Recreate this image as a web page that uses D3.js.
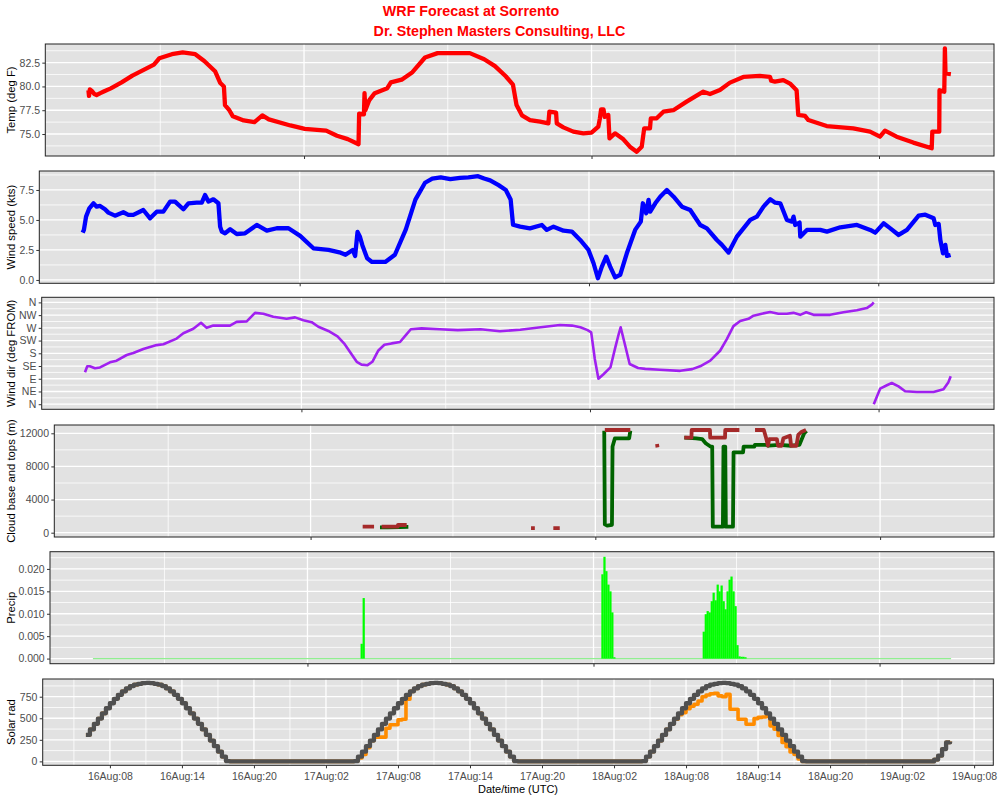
<!DOCTYPE html>
<html><head><meta charset="utf-8">
<script src="https://cdn.jsdelivr.net/npm/d3@7"></script>
<style>
body{margin:0;background:#fff}
svg{display:block}
text{font-family:"Liberation Sans",Arial,Helvetica,sans-serif}
</style>
</head><body>
<svg id="chart" width="1000" height="800"></svg>
<script>
// ---------- DATA (hours after 16 Aug 06:00 UTC, value) ----------
const START = Date.UTC(2019, 7, 16, 6);
const titleLines = ["WRF Forecast at Sorrento", "Dr. Stephen Masters Consulting, LLC"];
const xTitle = "Date/time (UTC)";
const yTitles = ["Temp (deg F)", "Wind speed (kts)", "Wind dir (deg FROM)", "Cloud base and tops (m)", "Precip", "Solar rad"];

const tempData = [[0,79.6],[0.05,79.0],[0.12,79.7],[0.3,79.5],[0.5,79.2],[0.68,79.1],[1.0,79.3],[1.28,79.46],[1.87,79.8],[2.77,80.43],[3.67,81.14],[4.57,81.71],[5.47,82.3],[5.92,82.96],[6.97,83.39],[7.87,83.57],[8.92,83.39],[9.67,82.68],[10.57,81.6],[11.01,80.36],[11.31,80.0],[11.4,78.04],[11.76,77.5],[12.06,76.86],[12.96,76.43],[13.86,76.25],[14.52,76.96],[15.06,76.54],[16.86,75.9],[18.06,75.54],[19.85,75.36],[20.75,74.82],[21.65,74.46],[22.55,73.93],[22.6,77.14],[23.0,77.07],[23.05,79.3],[23.12,77.5],[23.45,78.57],[23.9,79.29],[24.95,79.82],[25.25,80.43],[26.15,80.71],[27.05,81.5],[28.1,83.04],[29.15,83.5],[31.84,83.5],[33.04,82.86],[33.94,82.14],[34.84,81.07],[35.44,80.18],[35.74,78.04],[36.19,76.96],[36.86,76.47],[37.7,76.3],[38.4,76.12],[38.48,77.35],[39.04,77.24],[39.1,76.12],[39.65,75.7],[40.48,75.25],[41.32,75.07],[42.0,75.14],[42.57,75.77],[42.7,76.65],[42.8,77.6],[43.0,77.6],[43.1,76.8],[43.4,77.0],[43.5,74.55],[43.96,75.07],[44.66,74.44],[45.2,73.67],[45.77,73.14],[46.19,73.67],[46.4,75.6],[46.88,75.6],[46.95,76.65],[47.44,76.65],[48.0,77.35],[48.83,77.5],[49.94,78.4],[51.33,79.45],[51.89,79.2],[52.72,79.62],[53.56,80.4],[54.67,81.0],[56.06,81.1],[56.9,81.0],[57.0,80.6],[57.31,80.5],[58.01,80.67],[58.57,80.3],[59.12,79.6],[59.26,77.0],[59.82,76.9],[60.1,76.47],[61.63,75.84],[63.85,75.6],[65.25,75.25],[66.08,74.72],[66.5,75.35],[67.47,74.72],[68.86,74.1],[70.4,73.5],[70.45,75.25],[71.03,75.25],[71.05,79.6],[71.45,79.45],[71.5,84.0],[71.55,81.37],[72,81.3]];

const windData = [[0,3.94],[0.1,4.17],[0.28,5.28],[0.55,5.97],[0.89,6.39],[1.16,6.11],[1.44,6.17],[1.85,5.89],[2.13,5.61],[2.68,5.36],[3.37,5.64],[3.79,5.42],[4.2,5.42],[5.03,5.83],[5.59,5.14],[6.14,5.69],[6.69,5.69],[7.25,6.53],[7.66,6.53],[8.35,5.89],[8.77,6.39],[9.46,6.44],[9.88,6.44],[10.15,7.08],[10.43,6.53],[10.84,6.72],[11.26,6.39],[11.4,4.44],[11.54,4.03],[11.81,3.89],[12.23,4.22],[12.78,3.83],[13.47,3.89],[14.44,4.58],[15.27,4.11],[16.1,4.31],[17.07,4.31],[18.04,3.67],[19.14,2.64],[20.39,2.5],[21.3,2.3],[21.8,2.1],[22.4,2.5],[22.6,2.0],[22.8,4.0],[23.0,3.6],[23.2,2.9],[23.6,1.8],[24.0,1.5],[25.1,1.5],[25.9,2.1],[26.8,4.2],[27.6,6.7],[28.4,8.1],[29.0,8.45],[29.7,8.55],[30.5,8.4],[31.3,8.5],[32.0,8.55],[32.8,8.65],[33.3,8.45],[33.8,8.3],[34.5,7.9],[35.1,7.5],[35.5,6.7],[35.7,4.6],[36.29,4.44],[37.1,4.3],[38.09,4.58],[38.5,4.17],[39.06,4.44],[39.89,4.11],[40.58,4.03],[41.27,3.33],[41.96,2.5],[42.38,1.39],[42.74,0.14],[43.07,1.11],[43.43,1.94],[43.76,1.11],[44.17,0.22],[44.59,0.42],[45.14,2.22],[45.83,4.17],[46.3,4.86],[46.47,6.39],[46.75,5.56],[46.94,6.67],[47.08,5.69],[47.5,6.39],[47.91,6.94],[48.46,7.5],[49.02,6.94],[49.71,6.11],[50.4,5.83],[51.23,4.58],[51.78,4.3],[52.61,3.33],[53.03,2.92],[53.58,2.28],[54.27,3.61],[55.38,5.0],[55.93,5.28],[56.48,6.11],[57.04,6.72],[57.45,6.44],[57.87,6.39],[58.42,5.0],[58.84,4.86],[58.97,5.28],[59.11,4.58],[59.47,4.78],[59.53,3.61],[60.08,4.17],[61.19,4.17],[61.74,4.03],[62.85,4.39],[64.23,4.58],[65.33,4.17],[65.75,3.94],[66.44,4.72],[67.0,4.3],[67.69,3.75],[68.38,4.17],[69.35,5.36],[69.9,5.44],[70.59,5.14],[70.73,4.58],[71.01,4.67],[71.15,3.33],[71.37,2.22],[71.56,2.92],[71.7,2.0],[72,2.08]];

// wind direction, null marks the wrap from N(360) to N(0)
const dirData = [[0,113],[0.19,134],[0.4,134],[0.83,127],[1.25,130],[2.08,148],[2.63,154],[3.47,174],[4.02,181],[4.85,195],[5.96,209],[6.52,212],[7.62,232],[8.18,251],[9.01,267],[9.65,288],[10.12,270],[10.67,278],[12.06,278],[12.61,291],[13.45,293],[14.14,323],[14.83,320],[15.66,309],[16.77,302],[17.47,307],[18.16,297],[18.85,290],[19.41,274],[20.24,259],[21.0,240],[21.6,212],[22.2,175],[22.6,150],[23.0,140],[23.5,138],[23.9,150],[24.4,190],[24.9,210],[25.5,215],[26.2,220],[26.7,245],[27.1,265],[28.0,268],[29.5,265],[31.0,262],[32.9,265],[34.5,258],[36.2,263],[37.9,272],[39.5,280],[40.5,278],[41.2,272],[41.8,262],[42.1,254],[42.4,160],[42.7,90],[43.1,105],[43.7,130],[44.1,200],[44.4,250],[44.55,272],[44.9,212],[45.3,142],[46.0,128],[46.6,125],[47.8,122],[49.5,118],[50.5,124],[51.16,134],[52.0,154],[52.82,189],[53.38,230],[53.93,276],[54.49,294],[55.18,302],[55.6,313],[56.29,320],[56.98,326],[57.67,320],[58.37,320],[58.92,323],[59.48,316],[59.98,325],[60.59,316],[61.97,316],[63.08,325],[64.19,332],[65.02,340],[65.44,352],[65.6,360],[65.6,null],[65.6,0],[66.13,55],[66.69,67],[67.1,75],[67.66,63],[68.21,46],[69.18,43],[70.57,43],[71.4,53],[71.81,78],[72,99]];

// cloud tops and bases (m), null = no cloud
const cloudTops = [[22.39,725],[23.35,725],[23.4,null],[23.99,725],[25.34,725],[25.36,930],[26.1,930],[26.2,null],[36.58,560],[36.9,560],[37,null],[38.46,560],[39.0,560],[39.1,null],[42.8,12400],[44.95,12400],[45,null],[47.2,10700],[47.24,10300],[47.3,null],[49.5,11480],[50.1,11480],[50.12,12400],[51.66,12400],[51.68,11480],[52.93,11480],[52.95,12400],[54.14,12400],[54.2,null],[55.46,12400],[56.2,12400],[56.4,11400],[56.55,10500],[56.65,11300],[57.3,11300],[57.4,10500],[57.7,10500],[57.85,11400],[58.4,11700],[58.5,10500],[58.95,10500],[59.1,11800],[59.4,12200],[59.75,12400]];
const cloudBase = [[23.85,650],[24.5,650],[25.5,680],[26.24,700],[26.3,null],[42.75,12300],[42.8,1000],[43.0,850],[43.4,950],[43.45,10400],[43.65,11400],[44.85,11400],[44.95,12300],[45,null],[49.5,11480],[50.5,11400],[51.0,11300],[51.3,10800],[51.7,10400],[51.85,10400],[51.9,725],[52.75,725],[52.8,10400],[52.95,10400],[53.0,725],[53.6,725],[53.65,9700],[54.45,9700],[54.5,10400],[55.4,10400],[55.45,10600],[56.4,10600],[56.6,10500],[57.5,10600],[58.5,10500],[59.2,10600],[59.6,12000],[59.8,12300]];

// precipitation (10-min totals)
const precipHours  = [0,22.55,22.72,42.75,42.92,43.08,43.25,43.42,43.58,43.75,51.25,51.42,51.58,51.75,51.92,52.08,52.25,52.42,52.58,52.75,52.92,53.08,53.25,53.42,53.58,53.75,53.92,54.08,54.25,54.42,54.58,54.75,72];
const precipValues = [0,0.0033,0.0135,0.0188,0.0227,0.0195,0.0165,0.0150,0.0103,0.0003,0.0060,0.0099,0.0106,0.0103,0.0128,0.0147,0.0130,0.0165,0.0150,0.0163,0.0128,0.0110,0.0150,0.0176,0.0183,0.0150,0.0117,0.0030,0.0005,0.0004,0.0004,0.0003,0];

// solar radiation every 20 minutes from 16Aug 06:00 (clear sky and forecast)
const solarStepHours = 1/3;
const solarClear = [307,371,435,497,557,616,674,726,772,812,846,873,890,900,907,910,907,900,890,873,846,812,772,726,674,616,557,497,435,371,307,241,176,113,54,3,
0,0,0,0,0,0,0,0,0,0,0,0,0,0,0,0,0,0,0,0,0,0,0,0,0,0,0,0,0,0,0,
3,54,113,176,241,307,371,435,497,557,616,674,726,772,812,846,873,890,900,907,910,907,900,890,873,846,812,772,726,674,616,557,497,435,371,307,241,176,113,54,3,
0,0,0,0,0,0,0,0,0,0,0,0,0,0,0,0,0,0,0,0,0,0,0,0,0,0,0,0,0,0,0,
3,54,113,176,241,307,371,435,497,557,616,674,726,772,812,846,873,890,900,907,910,907,900,890,873,846,812,772,726,674,616,557,497,435,371,307,241,176,113,54,3,
0,0,0,0,0,0,0,0,0,0,0,0,0,0,0,0,0,0,0,0,0,0,0,0,0,0,0,0,0,0,0,0,
20,66,143,220,231];
const solarActual = [307,371,435,497,557,616,674,726,772,812,846,873,890,900,907,910,907,900,890,873,846,812,772,726,674,616,557,497,435,371,307,241,176,113,54,3,
0,0,0,0,0,0,0,0,0,0,0,0,0,0,0,0,0,0,0,0,0,0,0,0,0,0,0,0,0,0,0,
3,40,80,160,240,281,281,281,385,424,424,481,488,720,812,846,873,890,900,907,910,907,900,890,873,846,812,772,726,674,616,557,497,435,371,307,241,176,113,54,3,
0,0,0,0,0,0,0,0,0,0,0,0,0,0,0,0,0,0,0,0,0,0,0,0,0,0,0,0,0,0,0,
3,54,113,176,241,307,371,435,490,540,566,610,640,662,700,750,770,785,789,760,750,777,604,604,489,489,431,431,496,510,515,520,412,373,300,220,170,110,80,27,0,
0,0,0,0,0,0,0,0,0,0,0,0,0,0,0,0,0,0,0,0,0,0,0,0,0,0,0,0,0,0,0,0,
20,66,143,220,231];

// axis ranges and ticks
const timeRange = [-3.6, 75.6];
const dayTicks = [18, 42, 66];          // midnights
const dayMinor = [6, 30, 54];           // noons
const solarTicks = [2,8,14,20,26,32,38,44,50,56,62,68,74];
const solarMinorX = [-1,5,11,17,23,29,35,41,47,53,59,65,71];

const tempDomain = [72.69, 84.46], tempTicks = [75, 77.5, 80, 82.5], tempMinor = [73.75, 76.25, 78.75, 81.25, 83.75];
const windDomain = [-0.28, 9.08], windTicks = [0, 2.5, 5, 7.5], windMinor = [1.25, 3.75, 6.25, 8.75];
const dirDomain = [-18, 378], dirTicks = [0,45,90,135,180,225,270,315,360], dirMinor = [22.5,67.5,112.5,157.5,202.5,247.5,292.5,337.5];
const dirLabels = ["N","NE","E","SE","S","SW","W","NW","N"];
const cloudDomain = [-520, 13003], cloudTicks = [0, 4000, 8000, 12000], cloudMinor = [2000, 6000, 10000];
const precipDomain = [-0.00114, 0.02384], precipTicks = [0, 0.005, 0.01, 0.015, 0.02], precipMinor = [0.0025, 0.0075, 0.0125, 0.0175, 0.0225];
const solarDomain = [-45.5, 955.5], solarYTicks = [0, 250, 500, 750], solarYMinor = [125, 375, 625, 875];

// ---------- DRAWING ----------
const HOUR = 3600e3;
const toDate = h => new Date(START + h * HOUR);
const svg = d3.select("#chart");
const BG = "#E2E2E2";
let clipN = 0;

function drawPanel(p) {
  const x = d3.scaleUtc().domain(timeRange.map(toDate)).range([p.left, p.right]);
  const y = d3.scaleLinear().domain(p.domain).range([p.bottom, p.top]);
  const g = svg.append("g");
  g.append("rect").attr("x", p.left).attr("y", p.top)
    .attr("width", p.right - p.left).attr("height", p.bottom - p.top).attr("fill", BG);
  const grid = g.append("g").attr("stroke", "#fff");
  p.yMinor.forEach(v => grid.append("line").attr("x1", p.left).attr("x2", p.right)
    .attr("y1", y(v)).attr("y2", y(v)).attr("stroke-width", 0.8));
  p.xMinor.forEach(h => grid.append("line").attr("y1", p.top).attr("y2", p.bottom)
    .attr("x1", x(toDate(h))).attr("x2", x(toDate(h))).attr("stroke-width", 0.8));
  p.yTicks.forEach(v => grid.append("line").attr("x1", p.left).attr("x2", p.right)
    .attr("y1", y(v)).attr("y2", y(v)).attr("stroke-width", 1.3));
  p.xTicks.forEach(h => grid.append("line").attr("y1", p.top).attr("y2", p.bottom)
    .attr("x1", x(toDate(h))).attr("x2", x(toDate(h))).attr("stroke-width", 1.3));

  const id = "clip" + (clipN++);
  svg.append("clipPath").attr("id", id).append("rect")
    .attr("x", p.left).attr("y", p.top).attr("width", p.right - p.left).attr("height", p.bottom - p.top);
  const plot = g.append("g").attr("clip-path", `url(#${id})`);
  p.draw(plot, x, y);

  g.append("rect").attr("x", p.left).attr("y", p.top)
    .attr("width", p.right - p.left).attr("height", p.bottom - p.top)
    .attr("fill", "none").attr("stroke", "#222").attr("stroke-width", 1);

  const ya = d3.axisLeft(y).tickValues(p.yTicks).tickFormat(p.yFormat).tickSize(3).tickPadding(2.3);
  g.append("g").attr("transform", `translate(${p.left},0)`).call(ya).call(styleAxis);
  const xa = d3.axisBottom(x).tickValues(p.xTicks.map(toDate)).tickSize(3).tickPadding(4)
    .tickFormat(p.xFormat || (() => ""));
  g.append("g").attr("transform", `translate(0,${p.bottom})`).call(xa).call(styleAxis);

  g.append("text").attr("transform", `translate(14.5,${(p.top + p.bottom) / 2}) rotate(-90)`)
    .attr("text-anchor", "middle").attr("font-size", "11.3px").attr("fill", "#000").text(p.title);
}

function styleAxis(sel) {
  sel.select(".domain").remove();
  sel.selectAll(".tick line").attr("stroke", "#333").attr("stroke-width", 1);
  sel.selectAll(".tick text").attr("fill", "#4D4D4D").attr("font-size", "10.5px")
    .attr("font-family", '"Liberation Sans",Arial,sans-serif');
}

function pathLine(plot, x, y, data, color, width, curve) {
  const line = d3.line()
    .defined(d => d[1] !== null)
    .x(d => x(toDate(d[0]))).y(d => y(d[1]))
    .curve(curve || d3.curveLinear);
  plot.append("path").datum(data).attr("d", line).attr("fill", "none")
    .attr("stroke", color).attr("stroke-width", width)
    .attr("stroke-linejoin", "round").attr("stroke-linecap", "butt");
}

const RIGHT = 994;
const fmt1 = d3.format(".1f");

// Temperature
drawPanel({top: 44, bottom: 156, left: 45.3, right: RIGHT, domain: tempDomain,
  yTicks: tempTicks, yMinor: tempMinor, xTicks: dayTicks, xMinor: dayMinor,
  yFormat: fmt1, title: yTitles[0],
  draw: (pl, x, y) => pathLine(pl, x, y, tempData, "#FF0000", 4.3)});

// Wind speed
drawPanel({top: 171, bottom: 283.3, left: 39.3, right: RIGHT, domain: windDomain,
  yTicks: windTicks, yMinor: windMinor, xTicks: dayTicks, xMinor: dayMinor,
  yFormat: fmt1, title: yTitles[1],
  draw: (pl, x, y) => pathLine(pl, x, y, windData, "#0000FF", 4.3)});

// Wind direction
drawPanel({top: 297.3, bottom: 409.3, left: 41.7, right: RIGHT, domain: dirDomain,
  yTicks: dirTicks, yMinor: dirMinor, xTicks: dayTicks, xMinor: dayMinor,
  yFormat: (d, i) => dirLabels[i], title: yTitles[2],
  draw: (pl, x, y) => pathLine(pl, x, y, dirData, "#A020F0", 2.6)});

// Cloud base and tops
drawPanel({top: 425, bottom: 537, left: 54.3, right: RIGHT, domain: cloudDomain,
  yTicks: cloudTicks, yMinor: cloudMinor, xTicks: dayTicks, xMinor: dayMinor,
  yFormat: d3.format("d"), title: yTitles[3],
  draw: (pl, x, y) => {
    pathLine(pl, x, y, cloudBase, "#006400", 3.8);
    pathLine(pl, x, y, cloudTops, "#A52A2A", 3.8);
  }});

// Precipitation
drawPanel({top: 551.7, bottom: 663.7, left: 50, right: RIGHT, domain: precipDomain,
  yTicks: precipTicks, yMinor: precipMinor, xTicks: dayTicks, xMinor: dayMinor,
  yFormat: d3.format(".3f"), title: yTitles[4],
  draw: (pl, x, y) => {
    const ext = d3.extent(precipHours);
    pl.append("line").attr("x1", x(toDate(ext[0]))).attr("x2", x(toDate(ext[1])))
      .attr("y1", y(0)).attr("y2", y(0)).attr("stroke", "#90EE90").attr("stroke-width", 1.1);
    const bars = precipHours.map((h, i) => ({h, v: precipValues[i]})).filter(d => d.v > 0);
    const half = 5.6 / 60;
    pl.selectAll("rect.bar").data(bars).join("rect").attr("class", "bar")
      .attr("x", d => x(toDate(d.h - half)))
      .attr("width", d => x(toDate(d.h + half)) - x(toDate(d.h - half)))
      .attr("y", d => y(d.v)).attr("height", d => y(0) - y(d.v))
      .attr("fill", "#00FF00");
  }});

// Solar radiation
drawPanel({top: 679, bottom: 765.3, left: 42.7, right: 993.3, domain: solarDomain,
  yTicks: solarYTicks, yMinor: solarYMinor, xTicks: solarTicks, xMinor: solarMinorX,
  yFormat: d3.format("d"), title: yTitles[5], xFormat: d3.utcFormat("%d%b:%H"),
  draw: (pl, x, y) => {
    const act = solarActual.map((v, i) => [i * solarStepHours, v]);
    const clr = solarClear.map((v, i) => [i * solarStepHours, v]);
    pathLine(pl, x, y, act, "#FF8C00", 3.6, d3.curveStepAfter);
    pathLine(pl, x, y, clr, "#505050", 4.3, d3.curveStepAfter);
  }});

// X axis title
svg.append("text").attr("x", 518).attr("y", 793).attr("text-anchor", "middle")
  .attr("font-size", "11px").attr("fill", "#000").text(xTitle);

// Title
svg.append("text").attr("x", 471).attr("y", 15.5).attr("text-anchor", "middle")
  .attr("font-size", "14.3px").attr("font-weight", "bold").attr("fill", "#FF0000").text(titleLines[0]);
svg.append("text").attr("x", 499.5).attr("y", 35.5).attr("text-anchor", "middle")
  .attr("font-size", "14.3px").attr("font-weight", "bold").attr("fill", "#FF0000").text(titleLines[1]);
</script>
</body></html>
